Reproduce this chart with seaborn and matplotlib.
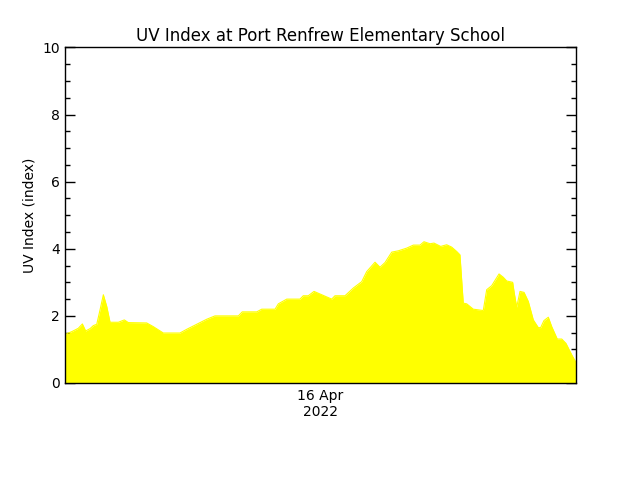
import pandas as pd
import numpy as np
import matplotlib.pyplot as plt
import seaborn as sns
from matplotlib.ticker import MultipleLocator

sns.set_theme(style="white")
plt.rcParams["font.family"] = ["DejaVu Sans"]
plt.rcParams["text.color"] = "black"
plt.rcParams["axes.labelcolor"] = "black"
plt.rcParams["xtick.color"] = "black"
plt.rcParams["ytick.color"] = "black"

# hours after 15 Apr 2022 00:00
hours = [0, 0.63, 1.25, 1.63, 1.94, 2.35, 2.66, 2.98, 3.29, 3.60, 3.92, 4.23,
         5.01, 5.57, 5.95, 7.67, 8.29, 9.23, 10.80, 11.43, 12.37, 13.31, 14.09,
         16.28, 16.65, 18.01, 18.48, 19.73, 20.04, 20.83, 22.07, 22.38, 22.85,
         23.39, 24.26, 25.05, 25.36, 26.30, 27.08, 27.87, 28.34, 29.12, 29.59,
         30.06, 30.69, 31.31, 32.10, 32.72, 33.35, 33.72, 34.29, 34.66, 35.29,
         35.85, 36.32, 36.79, 37.10, 37.26, 37.41, 37.73, 38.35, 39.29, 39.61,
         40.08, 40.77, 41.17, 41.49, 42.05, 42.20, 42.43, 42.74, 43.12, 43.52,
         43.99, 44.46, 44.68, 44.99, 45.40, 45.72, 46.24, 46.66, 47.06, 47.60, 48.0]
uv_index = [1.45, 1.53, 1.63, 1.76, 1.55, 1.62, 1.71, 1.75, 2.18, 2.63, 2.28, 1.81,
            1.81, 1.88, 1.80, 1.79, 1.68, 1.49, 1.49, 1.60, 1.75, 1.90, 2.00,
            2.00, 2.12, 2.12, 2.20, 2.20, 2.36, 2.50, 2.50, 2.60, 2.60,
            2.73, 2.61, 2.50, 2.60, 2.60, 2.83, 3.02, 3.32, 3.60, 3.45,
            3.59, 3.90, 3.94, 4.02, 4.11, 4.11, 4.21, 4.15, 4.17, 4.07,
            4.12, 4.05, 3.92, 3.82, 3.07, 2.38, 2.36, 2.20, 2.16, 2.78,
            2.90, 3.25, 3.15, 3.04, 3.00, 2.68, 2.26, 2.73, 2.70, 2.43,
            1.88, 1.65, 1.65, 1.86, 1.96, 1.68, 1.31, 1.31, 1.18, 0.84, 0.61]

start = pd.Timestamp("2022-04-15 00:00")
df = pd.DataFrame({
    "Time": start + pd.to_timedelta(hours, unit="h"),
    "UV": uv_index,
})

fig = plt.figure(figsize=(6.4, 4.8), dpi=100)
ax = fig.add_axes([0.1016, 0.2021, 0.7984, 0.699])

sns.lineplot(x="Time", y="UV", data=df, color="#ffff00", linewidth=0.8, ax=ax)
ax.fill_between(df["Time"], df["UV"], 0, color="#ffff00", linewidth=0)

ax.set_xlim(start, start + pd.Timedelta(hours=48))
ax.set_ylim(0, 10)
ax.set_title("UV Index at Port Renfrew Elementary School", fontsize=12, pad=5)
ax.set_xlabel("")
ax.set_ylabel("UV Index (index)", fontsize=10)

ax.set_xticks([pd.Timestamp("2022-04-16")])
ax.set_xticklabels(["16 Apr\n2022"], fontsize=10)
ax.yaxis.set_major_locator(MultipleLocator(2))
ax.yaxis.set_minor_locator(MultipleLocator(0.5))
ax.tick_params(axis="y", which="major", direction="in", length=7.2, width=1,
               right=True, left=True, labelsize=10)
ax.tick_params(axis="y", which="minor", direction="in", length=3.6, width=1,
               right=True, left=True)
ax.tick_params(axis="x", length=0, pad=4)

for s in ax.spines.values():
    s.set_color("black")
    s.set_linewidth(1)

fig.savefig("out.png", dpi=100)
